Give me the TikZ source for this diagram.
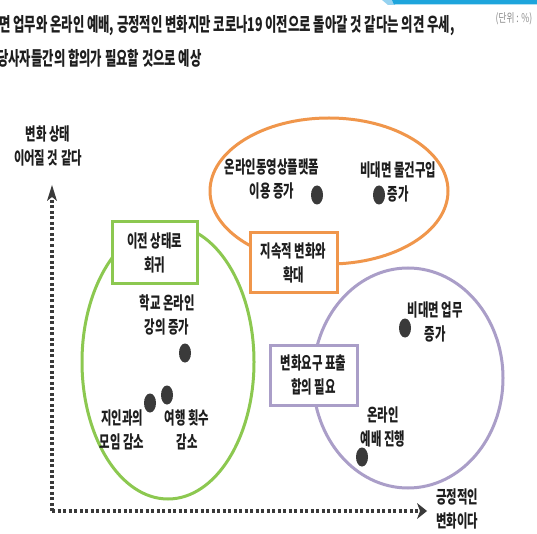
\documentclass[tikz,border=0pt]{standalone}
\usepackage{fontspec}
\usetikzlibrary{shapes.geometric,arrows.meta}
\setmainfont{Noto Sans CJK KR}
\newfontfamily\lblfont{Noto Sans CJK KR}[FakeStretch=0.65]
\newfontfamily\ttlfont{Noto Sans CJK KR}[FakeStretch=0.65]
\newfontfamily\unitfont{Noto Sans CJK KR}[FakeStretch=0.72]
\definecolor{orng}{RGB}{240,150,75}
\definecolor{grn}{RGB}{140,200,80}
\definecolor{prpl}{RGB}{170,158,200}
\definecolor{dotc}{RGB}{58,58,58}
\definecolor{txt}{RGB}{30,30,30}
\definecolor{blu}{RGB}{30,165,220}
\definecolor{lblu}{RGB}{150,210,240}
\definecolor{unitgray}{RGB}{140,140,140}
\begin{document}
\begin{tikzpicture}[x=1pt,y=-1pt,
  lbl/.style={font=\lblfont\bfseries\fontsize{17.5pt}{24pt}\selectfont, align=center, text=txt, inner sep=0pt},
  ttl/.style={font=\ttlfont\bfseries\fontsize{19pt}{20pt}\selectfont, text=txt, inner sep=0pt, anchor=west},
  dot/.style={ellipse, fill=dotc, minimum width=12pt, minimum height=19pt, inner sep=0pt},
  tag/.style={draw, line width=3pt, fill=white, inner sep=0pt, align=center, text=txt,
              font=\lblfont\bfseries\fontsize{17.5pt}{24pt}\selectfont},
  ring/.style={line width=3pt},
  axisline/.style={line width=3.5pt, color=dotc, dash pattern=on 3pt off 2.5pt}]
\useasboundingbox (0,0) rectangle (537,534);
\clip (0,0) rectangle (537,534);
\fill[white] (0,0) rectangle (537,534);

% top blue bar
\fill[lblu] (382,0) -- (395,0) -- (395,5) -- (388,5) -- cycle;
\fill[blu] (392,0) -- (537,0) -- (537,4.5) -- (394,4.5) -- cycle;

% title
\node[ttl] (t1) at (-1,26) {면 업무와 온라인 예배, 긍정적인 변화지만 코로나19 이전으로 돌아갈 것 같다는 의견 우세,};
\node[ttl] (t2) at (-3,58) {당사자들간의 합의가 필요할 것으로 예상};
\node[font=\unitfont\fontsize{12pt}{13pt}\selectfont, text=unitgray, inner sep=0pt] (unit) at (514,19) {(단위 : \%)};

% groups
\draw[ring, orng] (329,191) ellipse [x radius=119pt, y radius=73pt];
\draw[ring, grn] (168,362) ellipse [x radius=86pt, y radius=137pt];
\draw[ring, prpl] (408,378) ellipse [x radius=95pt, y radius=110pt];

\node[tag, draw=grn, minimum width=85pt, minimum height=61pt] (bg) at (154.5,252.5) {이전 상태로\\회귀};
\node[tag, draw=orng, minimum width=87pt, minimum height=59pt] (bo) at (293.5,262.5) {지속적 변화와\\확대};
\node[tag, draw=prpl, minimum width=87pt, minimum height=60pt] (bp) at (313.5,375) {변화요구 표출\\합의 필요};

% dots
\node[dot] (d1) at (317,195) {};
\node[dot] (d2) at (379,195) {};
\node[dot] (d3) at (185,353) {};
\node[dot] (d4) at (150,403) {};
\node[dot] (d5) at (167,395) {};
\node[dot] (d6) at (405,328) {};
\node[dot] (d7) at (362,457) {};

% labels
\node[lbl] (l1) at (272,179) {온라인동영상플랫폼\\이용 증가};
\node[lbl] (l2) at (398,182) {비대면 물건구입\\증가};
\node[lbl] (l3) at (167,315) {학교 온라인\\강의 증가};
\node[lbl] (l4) at (122,430) {지인과의\\모임 감소};
\node[lbl] (l5) at (187,430) {여행 횟수\\감소};
\node[lbl] (l6) at (435,322) {비대면 업무\\증가};
\node[lbl] (l7) at (383,427) {온라인\\예배 진행};

% axes
\coordinate (o) at (52,511);
\coordinate (ytip) at (52,185);
\coordinate (xtip) at (427,511);
\draw[axisline] (o) -- ([yshift=-10pt]ytip);
\draw[axisline] (o) -- ([xshift=-7pt]xtip);
\fill[dotc] (ytip) -- ++(5,16) -- ++(-5,-4) -- ++(-5,4) -- cycle;
\fill[dotc] (xtip) -- ++(-10,-8) -- ++(3,8) -- ++(-3,8) -- cycle;
\node[lbl] (ylab) at (48,146) {변화 상태\\이어질 것 같다};
\node[lbl] (xlab) at (457,509) {긍정적인\\변화이다};
\end{tikzpicture}
\end{document}
